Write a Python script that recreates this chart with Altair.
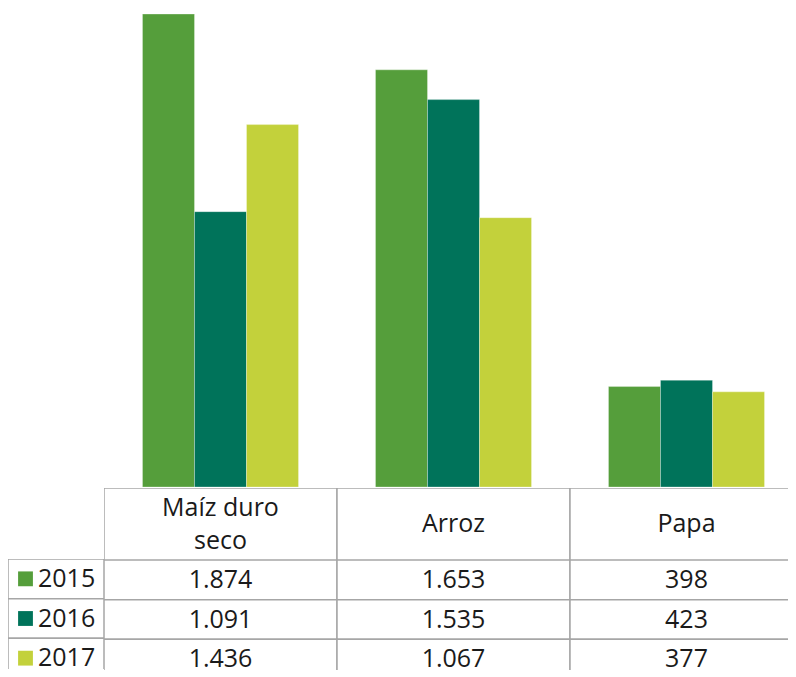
import altair as alt
import pandas as pd

categories = ["Maíz duro seco", "Arroz", "Papa"]
header_labels = ["Maíz duro\nseco", "Arroz", "Papa"]
years = ["2015", "2016", "2017"]
v2015 = [1874, 1653, 398]
v2016 = [1091, 1535, 423]
v2017 = [1436, 1067, 377]
colors = ["#559E3B", "#00735A", "#C3D13B"]

rows = []
for yr, vals in zip(years, [v2015, v2016, v2017]):
    for c, v in zip(categories, vals):
        rows.append({"cat": c, "year": yr, "value": v})
df = pd.DataFrame(rows)
hdr = pd.DataFrame({"cat": categories, "label": header_labels})
hdr["two"] = hdr["label"].str.contains("\n")
yrs = pd.DataFrame({"year": years})

FONT = "Open Sans"
FS = 25
GRID = "#a6a6a6"
TXT = "#1a1a1a"
W_MAIN = 684      # visible width of the main column
R_MAIN = 699      # full width of the three table columns (last one runs off the page)
W_LEFT = 96
H_BARS = 479
H_HDR = 72
H_TAB = 110       # visible height of the data rows
R_TAB = 119       # full height of the three data rows

xs = alt.Scale(domain=categories, range=[0, R_MAIN], paddingInner=0, paddingOuter=0)
cs = alt.Scale(domain=years, range=colors)
ys = alt.Scale(domain=years, range=[0, R_TAB], paddingInner=0, paddingOuter=0)

bars = alt.Chart(df).mark_bar(stroke="white", strokeWidth=0.3).encode(
    x=alt.X("cat:N", scale=xs, axis=None, sort=categories),
    xOffset=alt.XOffset("year:N", scale=alt.Scale(domain=years, paddingOuter=0.74, paddingInner=0)),
    y=alt.Y("value:Q", scale=alt.Scale(domain=[0, 1898], nice=False, zero=True), axis=None),
    color=alt.Color("year:N", scale=cs, legend=None),
).properties(width=W_MAIN, height=H_BARS)

hdr_cells = alt.Chart(hdr).mark_rect(fill="white", stroke=GRID, strokeWidth=1.5, clip=True).encode(
    x=alt.X("cat:N", scale=xs, axis=None, sort=categories),
)
hdr_text1 = alt.Chart(hdr).transform_filter("!datum.two").mark_text(
    font=FONT, fontSize=FS, color=TXT, baseline="middle"
).encode(
    x=alt.X("cat:N", scale=xs, axis=None, sort=categories),
    text="label:N",
)
hdr_text2 = alt.Chart(hdr).transform_filter("datum.two").mark_text(
    font=FONT, fontSize=FS, color=TXT, lineBreak="\n", lineHeight=33, baseline="middle", dy=-16
).encode(
    x=alt.X("cat:N", scale=xs, axis=None, sort=categories),
    text="label:N",
)
header = alt.layer(hdr_cells, hdr_text1, hdr_text2).properties(width=W_MAIN, height=H_HDR)

tab_cells = alt.Chart(df).mark_rect(fill="white", stroke=GRID, strokeWidth=1.5, clip=True).encode(
    x=alt.X("cat:N", scale=xs, axis=None, sort=categories),
    y=alt.Y("year:N", scale=ys, axis=None),
)
tab_text = alt.Chart(df).transform_calculate(
    lbl="replace(format(datum.value, ','), ',', '.')"
).mark_text(font=FONT, fontSize=FS, color=TXT, baseline="middle").encode(
    x=alt.X("cat:N", scale=xs, axis=None, sort=categories),
    y=alt.Y("year:N", scale=ys, axis=None),
    text="lbl:N",
)
table = alt.layer(tab_cells, tab_text).properties(width=W_MAIN, height=H_TAB)

lab_cells = alt.Chart(yrs).mark_rect(fill="white", stroke=GRID, strokeWidth=1.5, clip=True).encode(
    y=alt.Y("year:N", scale=ys, axis=None),
)
lab_sq = alt.Chart(yrs).mark_square(size=220, opacity=1).encode(
    x=alt.value(17.5),
    y=alt.Y("year:N", scale=ys, axis=None),
    color=alt.Color("year:N", scale=cs, legend=None),
)
lab_text = alt.Chart(yrs).mark_text(
    font=FONT, fontSize=FS, color=TXT, align="left", baseline="middle"
).encode(
    x=alt.value(30),
    y=alt.Y("year:N", scale=ys, axis=None),
    text="year:N",
)
labels = alt.layer(lab_cells, lab_sq, lab_text).properties(width=W_LEFT, height=H_TAB)

spacer = alt.Chart(yrs).mark_point(opacity=0).properties(width=W_LEFT, height=H_BARS + H_HDR)

left = alt.vconcat(spacer, labels, spacing=0)
right = alt.vconcat(bars, header, table, spacing=0)

chart = alt.hconcat(left, right, spacing=0).properties(
    padding=0
).configure_view(strokeWidth=0).configure_concat(spacing=0)

chart.save("out.html", embed_options={"renderer": "svg", "actions": False})
